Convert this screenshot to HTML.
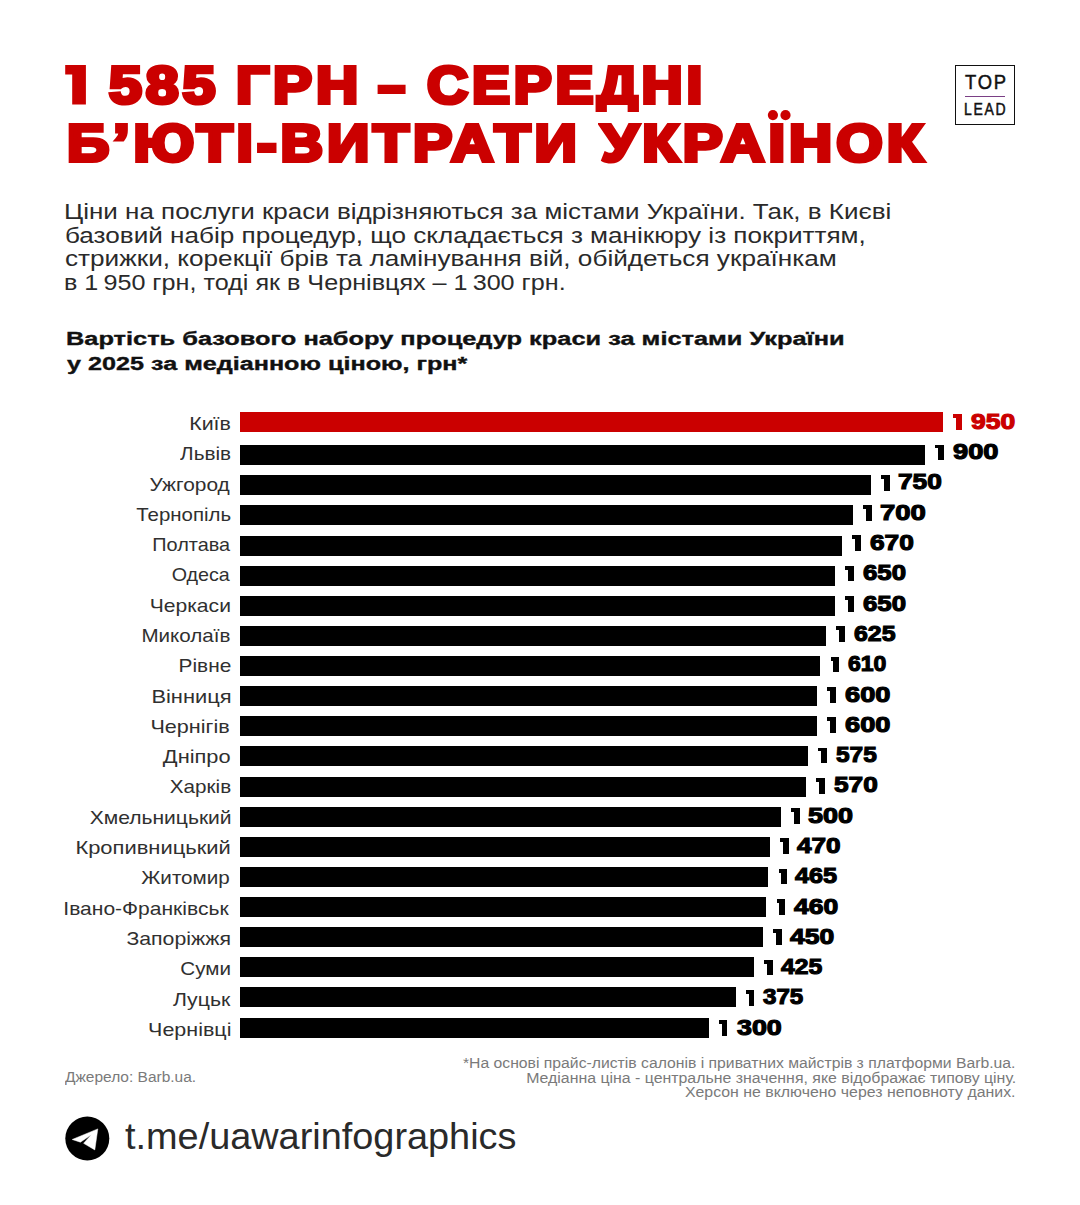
<!DOCTYPE html>
<html><head><meta charset="utf-8">
<style>
html,body{margin:0;padding:0;background:#fff;}
body{width:1080px;height:1205px;position:relative;overflow:hidden;font-family:"Liberation Sans",sans-serif;color:#111;}
.m{position:absolute;white-space:nowrap;line-height:1;}
.one{position:absolute;width:2.8px;}
.bar{position:absolute;left:240.4px;height:20.0px;}
.logo{position:absolute;left:955.2px;top:65px;width:58.2px;height:58.2px;border:1.3px solid #111;}
</style></head><body>
<svg style="position:absolute;left:0;top:0" width="100" height="120"><path d="M65.2 65H85.9V104.6H72.2V74.5H65.2Z" fill="#cb0000"/></svg>
<div class="m" id="t1b" style="left:109.08px;transform-origin:0 0;top:58.62px;font-size:52.180px;font-weight:bold;color:#cb0000;transform:scaleX(1.1314);-webkit-text-stroke:4.0px #cb0000;letter-spacing:3.5px;">585</div>
<div class="m" id="t1c" style="left:236.07px;transform-origin:0 0;top:58.62px;font-size:52.180px;font-weight:bold;color:#cb0000;transform:scaleX(1.1215);-webkit-text-stroke:4.0px #cb0000;letter-spacing:3.5px;">ГРН</div>
<div class="m" id="t1d" style="left:378.05px;transform-origin:0 0;top:58.62px;font-size:52.180px;font-weight:bold;color:#cb0000;transform:scaleX(0.9371);-webkit-text-stroke:4.0px #cb0000;letter-spacing:3.5px;">–</div>
<div style="position:absolute;left:593px;top:112.4px;width:49px;height:7px;background:#fff;z-index:2"></div>
<div class="m" id="t1e" style="left:426.79px;transform-origin:0 0;top:58.62px;font-size:52.180px;font-weight:bold;color:#cb0000;transform:scaleX(1.0907);-webkit-text-stroke:4.0px #cb0000;letter-spacing:3.5px;">СЕРЕДНІ</div>
<div class="m" id="t2a" style="left:66.84px;transform-origin:0 0;top:116.82px;font-size:52.180px;font-weight:bold;color:#cb0000;transform:scaleX(1.1279);-webkit-text-stroke:4.0px #cb0000;letter-spacing:3.5px;">Б’ЮТІ-ВИТРАТИ</div>
<svg style="position:absolute;left:760px;top:105px" width="40" height="20"><circle cx="12.9" cy="10.1" r="5.1" fill="#cb0000"/><circle cx="25.5" cy="10.1" r="5.1" fill="#cb0000"/></svg>
<div class="m" id="t2b" style="left:600.66px;transform-origin:0 0;top:116.82px;font-size:52.180px;font-weight:bold;color:#cb0000;transform:scaleX(1.1451);-webkit-text-stroke:4.0px #cb0000;letter-spacing:3.5px;">УКРАІНОК</div>
<div class="m" id="para0" style="left:64.29px;transform-origin:0 0;top:199.70px;font-size:22.800px;font-weight:normal;color:#2a2a2a;transform:scaleX(1.1397);">Ціни на послуги краси відрізняються за містами України. Так, в Києві</div>
<div class="m" id="para1" style="left:64.85px;transform-origin:0 0;top:223.50px;font-size:22.800px;font-weight:normal;color:#2a2a2a;transform:scaleX(1.1452);">базовий набір процедур, що складається з манікюру із покриттям,</div>
<div class="m" id="para2" style="left:64.85px;transform-origin:0 0;top:247.20px;font-size:22.800px;font-weight:normal;color:#2a2a2a;transform:scaleX(1.1473);">стрижки, корекції брів та ламінування вій, обійдеться українкам</div>
<div class="m" id="para3" style="left:63.79px;transform-origin:0 0;top:271.10px;font-size:22.800px;font-weight:normal;color:#2a2a2a;transform:scaleX(1.1039);">в 1&#8201;950 грн, тоді як в Чернівцях – 1&#8201;300 грн.</div>
<div class="m" id="sub0" style="left:65.66px;transform-origin:0 0;top:329.83px;font-size:18.900px;font-weight:bold;color:#111;transform:scaleX(1.3432);-webkit-text-stroke:0.35px #111;">Вартість базового набору процедур краси за містами України</div>
<div class="m" id="sub1" style="left:67.00px;transform-origin:0 0;top:354.83px;font-size:18.900px;font-weight:bold;color:#111;transform:scaleX(1.3322);-webkit-text-stroke:0.35px #111;">у 2025 за медіанною ціною, грн*</div>
<div class="one" style="left:953.28px;top:414.30px;height:3.9px;background:#cb0000"></div><div class="one" style="left:955.99px;top:414.30px;width:5.7px;height:15.70px;background:#cb0000"></div>
<div class="m" id="lbl0" style="right:848.85px;transform-origin:100% 0;top:415.94px;font-size:17.900px;font-weight:normal;color:#303030;transform:scaleX(1.1939);">Київ</div>
<div class="bar" style="top:412.00px;width:702.59px;height:19.70px;background:#cb0000"></div>
<div class="m" id="val0" style="left:970.83px;transform-origin:0 0;top:411.85px;font-size:21.481px;font-weight:bold;color:#cb0000;transform:scaleX(1.2320);-webkit-text-stroke:1.1px #cb0000;">950</div>
<div class="one" style="left:935.27px;top:444.60px;height:3.9px;background:#000"></div><div class="one" style="left:937.97px;top:444.60px;width:5.7px;height:15.70px;background:#000"></div>
<div class="m" id="lbl1" style="right:848.88px;transform-origin:100% 0;top:446.24px;font-size:17.900px;font-weight:normal;color:#303030;transform:scaleX(1.1583);">Львів</div>
<div class="bar" style="top:445.15px;width:684.57px;height:20.00px;background:#000"></div>
<div class="m" id="val1" style="left:952.64px;transform-origin:0 0;top:442.15px;font-size:21.481px;font-weight:bold;color:#000;transform:scaleX(1.2694);-webkit-text-stroke:1.1px #000;">900</div>
<div class="one" style="left:881.22px;top:474.89px;height:3.9px;background:#000"></div><div class="one" style="left:883.92px;top:474.89px;width:5.7px;height:15.70px;background:#000"></div>
<div class="m" id="lbl2" style="right:850.04px;transform-origin:100% 0;top:476.53px;font-size:17.900px;font-weight:normal;color:#303030;transform:scaleX(1.1678);">Ужгород</div>
<div class="bar" style="top:475.28px;width:630.52px;height:20.00px;background:#000"></div>
<div class="m" id="val2" style="left:898.16px;transform-origin:0 0;top:472.44px;font-size:21.481px;font-weight:bold;color:#000;transform:scaleX(1.2224);-webkit-text-stroke:1.1px #000;">750</div>
<div class="one" style="left:863.21px;top:505.19px;height:3.9px;background:#000"></div><div class="one" style="left:865.91px;top:505.19px;width:5.7px;height:15.70px;background:#000"></div>
<div class="m" id="lbl3" style="right:848.89px;transform-origin:100% 0;top:506.83px;font-size:17.900px;font-weight:normal;color:#303030;transform:scaleX(1.1415);">Тернопіль</div>
<div class="bar" style="top:505.41px;width:612.51px;height:20.00px;background:#000"></div>
<div class="m" id="val3" style="left:880.01px;transform-origin:0 0;top:502.74px;font-size:21.481px;font-weight:bold;color:#000;transform:scaleX(1.2800);-webkit-text-stroke:1.1px #000;">700</div>
<div class="one" style="left:852.40px;top:535.48px;height:3.9px;background:#000"></div><div class="one" style="left:855.10px;top:535.48px;width:5.7px;height:15.70px;background:#000"></div>
<div class="m" id="lbl4" style="right:850.03px;transform-origin:100% 0;top:537.12px;font-size:17.900px;font-weight:normal;color:#303030;transform:scaleX(1.1102);">Полтава</div>
<div class="bar" style="top:535.54px;width:601.70px;height:20.00px;background:#000"></div>
<div class="m" id="val4" style="left:870.02px;transform-origin:0 0;top:533.03px;font-size:21.481px;font-weight:bold;color:#000;transform:scaleX(1.2244);-webkit-text-stroke:1.1px #000;">670</div>
<div class="one" style="left:845.19px;top:565.77px;height:3.9px;background:#000"></div><div class="one" style="left:847.89px;top:565.77px;width:5.7px;height:15.70px;background:#000"></div>
<div class="m" id="lbl5" style="right:850.01px;transform-origin:100% 0;top:567.42px;font-size:17.900px;font-weight:normal;color:#303030;transform:scaleX(1.1001);">Одеса</div>
<div class="bar" style="top:565.67px;width:594.50px;height:20.00px;background:#000"></div>
<div class="m" id="val5" style="left:862.94px;transform-origin:0 0;top:563.33px;font-size:21.481px;font-weight:bold;color:#000;transform:scaleX(1.2008);-webkit-text-stroke:1.1px #000;">650</div>
<div class="one" style="left:845.19px;top:596.07px;height:3.9px;background:#000"></div><div class="one" style="left:847.89px;top:596.07px;width:5.7px;height:15.70px;background:#000"></div>
<div class="m" id="lbl6" style="right:848.85px;transform-origin:100% 0;top:597.71px;font-size:17.900px;font-weight:normal;color:#303030;transform:scaleX(1.1791);">Черкаси</div>
<div class="bar" style="top:595.80px;width:594.50px;height:20.00px;background:#000"></div>
<div class="m" id="val6" style="left:862.94px;transform-origin:0 0;top:593.62px;font-size:21.481px;font-weight:bold;color:#000;transform:scaleX(1.2008);-webkit-text-stroke:1.1px #000;">650</div>
<div class="one" style="left:836.19px;top:626.37px;height:3.9px;background:#000"></div><div class="one" style="left:838.89px;top:626.37px;width:5.7px;height:15.70px;background:#000"></div>
<div class="m" id="lbl7" style="right:849.86px;transform-origin:100% 0;top:628.01px;font-size:17.900px;font-weight:normal;color:#303030;transform:scaleX(1.1494);">Миколаїв</div>
<div class="bar" style="top:625.93px;width:585.49px;height:20.00px;background:#000"></div>
<div class="m" id="val7" style="left:853.90px;transform-origin:0 0;top:623.92px;font-size:21.481px;font-weight:bold;color:#000;transform:scaleX(1.1578);-webkit-text-stroke:1.1px #000;">625</div>
<div class="one" style="left:830.78px;top:656.66px;height:3.9px;background:#000"></div><div class="one" style="left:833.48px;top:656.66px;width:5.7px;height:15.70px;background:#000"></div>
<div class="m" id="lbl8" style="right:848.84px;transform-origin:100% 0;top:658.30px;font-size:17.900px;font-weight:normal;color:#303030;transform:scaleX(1.1640);">Рівне</div>
<div class="bar" style="top:656.06px;width:580.08px;height:20.00px;background:#000"></div>
<div class="m" id="val8" style="left:847.85px;transform-origin:0 0;top:654.21px;font-size:21.481px;font-weight:bold;color:#000;transform:scaleX(1.0721);-webkit-text-stroke:1.1px #000;">610</div>
<div class="one" style="left:827.18px;top:686.95px;height:3.9px;background:#000"></div><div class="one" style="left:829.88px;top:686.95px;width:5.7px;height:15.70px;background:#000"></div>
<div class="m" id="lbl9" style="right:848.82px;transform-origin:100% 0;top:688.60px;font-size:17.900px;font-weight:normal;color:#303030;transform:scaleX(1.2224);">Вінниця</div>
<div class="bar" style="top:686.19px;width:576.48px;height:20.00px;background:#000"></div>
<div class="m" id="val9" style="left:844.76px;transform-origin:0 0;top:684.51px;font-size:21.481px;font-weight:bold;color:#000;transform:scaleX(1.2675);-webkit-text-stroke:1.1px #000;">600</div>
<div class="one" style="left:827.18px;top:717.25px;height:3.9px;background:#000"></div><div class="one" style="left:829.88px;top:717.25px;width:5.7px;height:15.70px;background:#000"></div>
<div class="m" id="lbl10" style="right:849.83px;transform-origin:100% 0;top:718.89px;font-size:17.900px;font-weight:normal;color:#303030;transform:scaleX(1.2065);">Чернігів</div>
<div class="bar" style="top:716.32px;width:576.48px;height:20.00px;background:#000"></div>
<div class="m" id="val10" style="left:844.76px;transform-origin:0 0;top:714.80px;font-size:21.481px;font-weight:bold;color:#000;transform:scaleX(1.2675);-webkit-text-stroke:1.1px #000;">600</div>
<div class="one" style="left:818.17px;top:747.54px;height:3.9px;background:#000"></div><div class="one" style="left:820.87px;top:747.54px;width:5.7px;height:15.70px;background:#000"></div>
<div class="m" id="lbl11" style="right:849.82px;transform-origin:100% 0;top:749.19px;font-size:17.900px;font-weight:normal;color:#303030;transform:scaleX(1.2184);">Дніпро</div>
<div class="bar" style="top:746.45px;width:567.47px;height:20.00px;background:#000"></div>
<div class="m" id="val11" style="left:835.73px;transform-origin:0 0;top:745.10px;font-size:21.481px;font-weight:bold;color:#000;transform:scaleX(1.1363);-webkit-text-stroke:1.1px #000;">575</div>
<div class="one" style="left:816.37px;top:777.84px;height:3.9px;background:#000"></div><div class="one" style="left:819.07px;top:777.84px;width:5.7px;height:15.70px;background:#000"></div>
<div class="m" id="lbl12" style="right:848.88px;transform-origin:100% 0;top:779.48px;font-size:17.900px;font-weight:normal;color:#303030;transform:scaleX(1.1542);">Харків</div>
<div class="bar" style="top:776.58px;width:565.67px;height:20.00px;background:#000"></div>
<div class="m" id="val12" style="left:833.70px;transform-origin:0 0;top:775.39px;font-size:21.481px;font-weight:bold;color:#000;transform:scaleX(1.2211);-webkit-text-stroke:1.1px #000;">570</div>
<div class="one" style="left:791.15px;top:808.13px;height:3.9px;background:#000"></div><div class="one" style="left:793.85px;top:808.13px;width:5.7px;height:15.70px;background:#000"></div>
<div class="m" id="lbl13" style="right:848.86px;transform-origin:100% 0;top:809.78px;font-size:17.900px;font-weight:normal;color:#303030;transform:scaleX(1.1766);">Хмельницький</div>
<div class="bar" style="top:806.71px;width:540.45px;height:20.00px;background:#000"></div>
<div class="m" id="val13" style="left:808.44px;transform-origin:0 0;top:805.69px;font-size:21.481px;font-weight:bold;color:#000;transform:scaleX(1.2553);-webkit-text-stroke:1.1px #000;">500</div>
<div class="one" style="left:780.34px;top:838.43px;height:3.9px;background:#000"></div><div class="one" style="left:783.04px;top:838.43px;width:5.7px;height:15.70px;background:#000"></div>
<div class="m" id="lbl14" style="right:848.82px;transform-origin:100% 0;top:840.07px;font-size:17.900px;font-weight:normal;color:#303030;transform:scaleX(1.2257);">Кропивницький</div>
<div class="bar" style="top:836.84px;width:529.64px;height:20.00px;background:#000"></div>
<div class="m" id="val14" style="left:797.40px;transform-origin:0 0;top:835.98px;font-size:21.481px;font-weight:bold;color:#000;transform:scaleX(1.2169);-webkit-text-stroke:1.1px #000;">470</div>
<div class="one" style="left:778.54px;top:868.72px;height:3.9px;background:#000"></div><div class="one" style="left:781.24px;top:868.72px;width:5.7px;height:15.70px;background:#000"></div>
<div class="m" id="lbl15" style="right:849.88px;transform-origin:100% 0;top:870.37px;font-size:17.900px;font-weight:normal;color:#303030;transform:scaleX(1.1520);">Житомир</div>
<div class="bar" style="top:866.97px;width:527.84px;height:20.00px;background:#000"></div>
<div class="m" id="val15" style="left:795.41px;transform-origin:0 0;top:866.28px;font-size:21.481px;font-weight:bold;color:#000;transform:scaleX(1.1740);-webkit-text-stroke:1.1px #000;">465</div>
<div class="one" style="left:776.74px;top:899.02px;height:3.9px;background:#000"></div><div class="one" style="left:779.44px;top:899.02px;width:5.7px;height:15.70px;background:#000"></div>
<div class="m" id="lbl16" style="right:851.04px;transform-origin:100% 0;top:900.66px;font-size:17.900px;font-weight:normal;color:#303030;transform:scaleX(1.1755);">Івано-Франківськ</div>
<div class="bar" style="top:897.10px;width:526.04px;height:20.00px;background:#000"></div>
<div class="m" id="val16" style="left:794.27px;transform-origin:0 0;top:896.57px;font-size:21.481px;font-weight:bold;color:#000;transform:scaleX(1.2333);-webkit-text-stroke:1.1px #000;">460</div>
<div class="one" style="left:773.13px;top:929.31px;height:3.9px;background:#000"></div><div class="one" style="left:775.84px;top:929.31px;width:5.7px;height:15.70px;background:#000"></div>
<div class="m" id="lbl17" style="right:848.86px;transform-origin:100% 0;top:930.96px;font-size:17.900px;font-weight:normal;color:#303030;transform:scaleX(1.1884);">Запоріжжя</div>
<div class="bar" style="top:927.23px;width:522.44px;height:20.00px;background:#000"></div>
<div class="m" id="val17" style="left:790.29px;transform-origin:0 0;top:926.87px;font-size:21.481px;font-weight:bold;color:#000;transform:scaleX(1.2312);-webkit-text-stroke:1.1px #000;">450</div>
<div class="one" style="left:764.13px;top:959.61px;height:3.9px;background:#000"></div><div class="one" style="left:766.83px;top:959.61px;width:5.7px;height:15.70px;background:#000"></div>
<div class="m" id="lbl18" style="right:848.88px;transform-origin:100% 0;top:961.25px;font-size:17.900px;font-weight:normal;color:#303030;transform:scaleX(1.1524);">Суми</div>
<div class="bar" style="top:957.36px;width:513.43px;height:20.00px;background:#000"></div>
<div class="m" id="val18" style="left:781.27px;transform-origin:0 0;top:957.16px;font-size:21.481px;font-weight:bold;color:#000;transform:scaleX(1.1516);-webkit-text-stroke:1.1px #000;">425</div>
<div class="one" style="left:746.11px;top:989.90px;height:3.9px;background:#000"></div><div class="one" style="left:748.81px;top:989.90px;width:5.7px;height:15.70px;background:#000"></div>
<div class="m" id="lbl19" style="right:850.03px;transform-origin:100% 0;top:991.55px;font-size:17.900px;font-weight:normal;color:#303030;transform:scaleX(1.1877);">Луцьк</div>
<div class="bar" style="top:987.49px;width:495.41px;height:20.00px;background:#000"></div>
<div class="m" id="val19" style="left:763.17px;transform-origin:0 0;top:987.46px;font-size:21.481px;font-weight:bold;color:#000;transform:scaleX(1.1219);-webkit-text-stroke:1.1px #000;">375</div>
<div class="one" style="left:719.09px;top:1020.20px;height:3.9px;background:#000"></div><div class="one" style="left:721.79px;top:1020.20px;width:5.7px;height:15.70px;background:#000"></div>
<div class="m" id="lbl20" style="right:848.85px;transform-origin:100% 0;top:1021.84px;font-size:17.900px;font-weight:normal;color:#303030;transform:scaleX(1.2000);">Чернівці</div>
<div class="bar" style="top:1017.62px;width:468.39px;height:20.00px;background:#000"></div>
<div class="m" id="val20" style="left:736.83px;transform-origin:0 0;top:1017.75px;font-size:21.481px;font-weight:bold;color:#000;transform:scaleX(1.2499);-webkit-text-stroke:1.1px #000;">300</div>
<div class="m" id="note0" style="right:64.34px;transform-origin:100% 0;top:1055.95px;font-size:14.000px;font-weight:normal;color:#7a7a7a;transform:scaleX(1.1243);">*На основі прайс-листів салонів і приватних майстрів з платформи Barb.ua.</div>
<div class="m" id="note1" style="right:64.32px;transform-origin:100% 0;top:1070.55px;font-size:14.000px;font-weight:normal;color:#7a7a7a;transform:scaleX(1.1338);">Медіанна ціна - центральне значення, яке відображає типову ціну.</div>
<div class="m" id="note2" style="right:64.32px;transform-origin:100% 0;top:1085.35px;font-size:14.000px;font-weight:normal;color:#7a7a7a;transform:scaleX(1.1342);">Херсон не включено через неповноту даних.</div>
<div class="m" id="src" style="left:64.94px;transform-origin:0 0;top:1070.35px;font-size:14.000px;font-weight:normal;color:#7a7a7a;transform:scaleX(1.1060);">Джерело: Barb.ua.</div>
<div class="m" id="tg" style="left:124.97px;transform-origin:0 0;top:1118.61px;font-size:36.600px;font-weight:normal;color:#2a2a2a;transform:scaleX(1.0351);">t.me/uawarinfographics</div>
<div class="logo"></div><div class="m" id="logo0" style="left:965.19px;transform-origin:0 0;top:71.90px;font-size:20.494px;font-weight:normal;color:#111;transform:scaleX(0.8985);-webkit-text-stroke:0.5px #111;letter-spacing:2px;">TOP</div><div style="position:absolute;left:964.9px;top:95.6px;width:40.5px;height:1.7px;background:#7a3f85"></div><div class="m" id="logo1" style="left:964.31px;transform-origin:0 0;top:100.97px;font-size:16.279px;font-weight:normal;color:#111;transform:scaleX(0.8602);-webkit-text-stroke:0.5px #111;letter-spacing:2px;">LEAD</div>
<svg style="position:absolute;left:65px;top:1116px" width="45" height="45" viewBox="0 0 45 45"><circle cx="22.3" cy="22.5" r="22" fill="#000"/><path d="M7.2 23.5 L32.8 12.9 L29.8 33.9 L18.6 27.3 L26.3 18.8 L15.4 26.2 Z" fill="#fff" stroke="#fff" stroke-width="0.5" stroke-linejoin="round"/></svg>
</body></html>
